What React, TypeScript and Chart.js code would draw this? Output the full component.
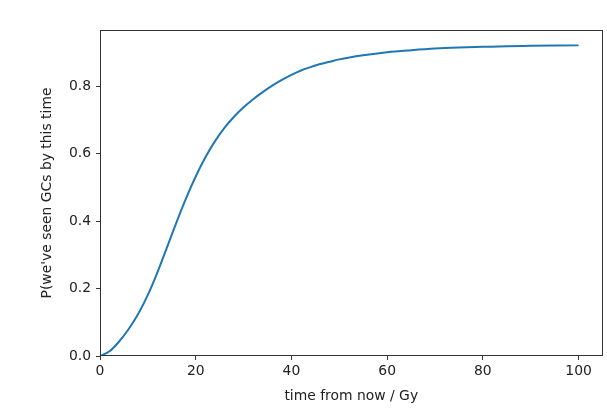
import React, { useEffect, useRef } from "react";
import { Chart, registerables } from "chart.js";

Chart.register(...registerables);

const times = [0, 2, 4, 6, 8, 10, 12, 14, 16, 18, 20, 22, 24, 26, 28, 30, 32, 34, 36, 38, 40, 42, 44, 46, 48, 50, 55, 60, 65, 70, 75, 80, 85, 90, 95, 100];
const probs = [0.0, 0.014, 0.043, 0.08, 0.125, 0.181, 0.248, 0.322, 0.397, 0.468, 0.532, 0.588, 0.636, 0.676, 0.709, 0.737, 0.761, 0.782, 0.801, 0.818, 0.833, 0.846, 0.856, 0.865, 0.872, 0.879, 0.891, 0.9, 0.906, 0.911, 0.914, 0.916, 0.918, 0.919, 0.92, 0.921];
const xTicks = [0, 20, 40, 60, 80, 100];
const yTicks = [0, 0.2, 0.4, 0.6, 0.8];

const FONT = "'DejaVu Sans', sans-serif";

export default function App() {
  const ref = useRef<HTMLCanvasElement | null>(null);
  useEffect(() => {
    if (!ref.current) return;
    const framePlugin = {
      id: "frame",
      afterDraw(chart: any) {
        const { ctx, chartArea } = chart;
        ctx.save();
        ctx.strokeStyle = "#333";
        ctx.lineWidth = 1;
        ctx.strokeRect(
          Math.round(chartArea.left) + 0.5,
          Math.round(chartArea.top) + 0.5,
          Math.round(chartArea.right - chartArea.left) - 1,
          Math.round(chartArea.bottom - chartArea.top) - 1
        );
        ctx.restore();
      },
    };
    const chart = new Chart(ref.current, {
      type: "line",
      data: {
        datasets: [
          {
            data: times.map((t, i) => ({ x: t, y: probs[i] })),
            borderColor: "#1f77b4",
            borderWidth: 2,
            pointRadius: 0,
            cubicInterpolationMode: "monotone",
            fill: false,
          },
        ],
      },
      options: {
        animation: false,
        responsive: false,
        layout: { padding: { left: 0, right: 4.5, top: 30, bottom: 0 } },
        plugins: { legend: { display: false }, tooltip: { enabled: false } },
        scales: {
          x: {
            type: "linear",
            min: 0,
            max: 105,
            afterFit(scale: any) {
              scale.height = 55;
            },
            afterBuildTicks(scale: any) {
              scale.ticks = xTicks.map((v) => ({ value: v }));
            },
            grid: { drawOnChartArea: false, drawTicks: true, tickLength: 4, color: "#333" },
            border: { display: false },
            ticks: {
              includeBounds: false,
              padding: 3,
              color: "#222",
              font: { family: FONT, size: 13.9 },
              maxRotation: 0,
              callback: (v: any) => String(v),
            },
            title: {
              display: true,
              text: "time from now / Gy",
              color: "#222",
              font: { family: FONT, size: 13.9 },
              padding: { top: 0, bottom: 6 },
            },
          },
          y: {
            type: "linear",
            min: 0,
            max: 0.966,
            afterFit(scale: any) {
              scale.width = 100;
            },
            afterBuildTicks(scale: any) {
              scale.ticks = yTicks.map((v) => ({ value: v }));
            },
            grid: { drawOnChartArea: false, drawTicks: true, tickLength: 4, color: "#333" },
            border: { display: false },
            ticks: {
              includeBounds: false,
              padding: 5,
              color: "#222",
              font: { family: FONT, size: 13.9 },
              callback: (v: any) => Number(v).toFixed(1),
            },
            title: {
              display: true,
              text: "P(we've seen GCs by this time",
              color: "#222",
              font: { family: FONT, size: 13.9 },
              padding: { top: 39, bottom: 0 },
            },
          },
        },
      },
      plugins: [framePlugin],
    } as any);
    return () => chart.destroy();
  }, []);
  return (
    <div style={{ position: "absolute", left: 0, top: 0, width: 607, height: 411, background: "#fff" }}>
      <canvas ref={ref} width={607} height={411} style={{ width: 607, height: 411 }} />
    </div>
  );
}
